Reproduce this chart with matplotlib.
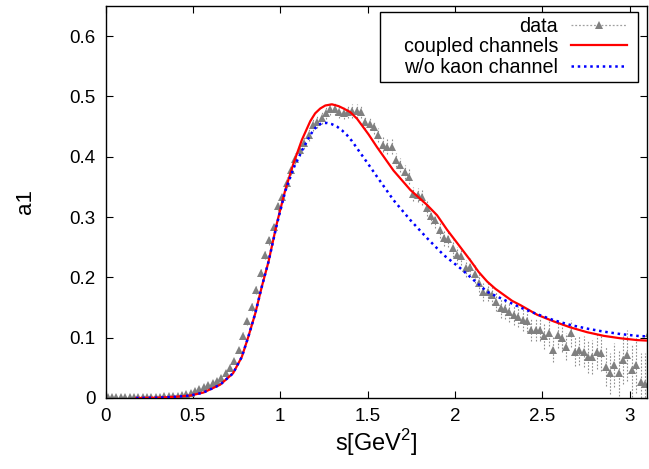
import matplotlib
matplotlib.use("Agg")
import matplotlib.pyplot as plt
from matplotlib.lines import Line2D
from matplotlib.patches import Rectangle
from matplotlib.transforms import IdentityTransform

plt.rcParams['font.family'] = ['Liberation Sans', 'DejaVu Sans']
plt.rcParams['mathtext.fontset'] = 'custom'
plt.rcParams['mathtext.rm'] = 'Liberation Sans'

# data points (s, a1, error)
s_data = [0.0125, 0.0375, 0.0625, 0.0875, 0.1125, 0.1375, 0.1625, 0.1875, 0.2125, 0.2375,
          0.2625, 0.2875, 0.3125, 0.3375, 0.3625, 0.3875, 0.4125, 0.4375, 0.4625, 0.4875,
          0.5125, 0.5375, 0.5625, 0.5875, 0.6125, 0.6375, 0.6625, 0.6875, 0.7125, 0.7375,
          0.7625, 0.7875, 0.8125, 0.8375, 0.8625, 0.8875, 0.9125, 0.9375, 0.9625, 0.9875,
          1.0125, 1.0375, 1.0625, 1.0875, 1.1125, 1.1375, 1.1625, 1.1875, 1.2125, 1.2375,
          1.2625, 1.2875, 1.3125, 1.3375, 1.3625, 1.3875, 1.4125, 1.4375, 1.4625, 1.4875,
          1.5125, 1.5375, 1.5625, 1.5875, 1.6125, 1.6375, 1.6625, 1.6875, 1.7125, 1.7375,
          1.7625, 1.7875, 1.8125, 1.8375, 1.8625, 1.8875, 1.9125, 1.9375, 1.9625, 1.9875,
          2.0125, 2.0375, 2.0625, 2.0875, 2.1125, 2.1375, 2.1625, 2.1875, 2.2125, 2.2375,
          2.2625, 2.2875, 2.3125, 2.3375, 2.3625, 2.3875, 2.4125, 2.4375, 2.4625, 2.4875,
          2.5125, 2.5375, 2.5625, 2.5875, 2.6125, 2.6375, 2.6625, 2.6875, 2.7125, 2.7375,
          2.7625, 2.7875, 2.8125, 2.8375, 2.8625, 2.8875, 2.9125, 2.9375, 2.9625, 2.9875,
          3.0125, 3.0375, 3.0625, 3.0875, 3.1125]
a1_data = [0.002, 0.002, 0.002, 0.002, 0.002, 0.002, 0.002, 0.002, 0.002, 0.002,
           0.002, 0.002, 0.002, 0.003, 0.003, 0.003, 0.004, 0.005, 0.007, 0.009,
           0.012, 0.015, 0.019, 0.022, 0.025, 0.028, 0.033, 0.041, 0.050, 0.062,
           0.080, 0.103, 0.127, 0.151, 0.179, 0.207, 0.237, 0.262, 0.284, 0.318,
           0.333, 0.357, 0.378, 0.397, 0.411, 0.423, 0.436, 0.453, 0.458, 0.464,
           0.472, 0.479, 0.479, 0.475, 0.473, 0.475, 0.476, 0.476, 0.475, 0.457,
           0.455, 0.449, 0.436, 0.420, 0.417, 0.417, 0.395, 0.386, 0.375, 0.367,
           0.338, 0.337, 0.333, 0.315, 0.301, 0.295, 0.279, 0.265, 0.263, 0.248,
           0.237, 0.235, 0.215, 0.218, 0.205, 0.190, 0.176, 0.176, 0.171, 0.160,
           0.149, 0.147, 0.143, 0.138, 0.135, 0.129, 0.127, 0.113, 0.113, 0.113,
           0.102, 0.107, 0.080, 0.104, 0.099, 0.085, 0.107, 0.077, 0.080, 0.077,
           0.068, 0.068, 0.077, 0.074, 0.052, 0.041, 0.055, 0.042, 0.063, 0.071,
           0.046, 0.055, 0.027, 0.024, 0.107]
err_data = [0.001, 0.001, 0.001, 0.001, 0.001, 0.001, 0.001, 0.001, 0.001, 0.001,
            0.001, 0.001, 0.001, 0.001, 0.001, 0.001, 0.002, 0.002, 0.002, 0.002,
            0.002, 0.003, 0.003, 0.003, 0.003, 0.004, 0.004, 0.004, 0.005, 0.005,
            0.005, 0.006, 0.006, 0.006, 0.007, 0.007, 0.007, 0.008, 0.008, 0.008,
            0.008, 0.009, 0.009, 0.009, 0.009, 0.010, 0.010, 0.010, 0.010, 0.010,
            0.010, 0.010, 0.010, 0.010, 0.010, 0.011, 0.011, 0.011, 0.011, 0.011,
            0.011, 0.011, 0.011, 0.012, 0.012, 0.012, 0.012, 0.012, 0.012, 0.012,
            0.012, 0.012, 0.013, 0.013, 0.013, 0.013, 0.013, 0.013, 0.013, 0.014,
            0.014, 0.014, 0.014, 0.014, 0.015, 0.015, 0.015, 0.015, 0.016, 0.016,
            0.016, 0.016, 0.017, 0.017, 0.017, 0.018, 0.018, 0.018, 0.019, 0.019,
            0.020, 0.020, 0.021, 0.021, 0.022, 0.022, 0.023, 0.024, 0.025, 0.026,
            0.027, 0.028, 0.029, 0.030, 0.032, 0.034, 0.036, 0.038, 0.040, 0.042,
            0.044, 0.046, 0.048, 0.050, 0.050]

# coupled channels curve
s_cc = [0.175, 0.30, 0.40, 0.484, 0.56, 0.656, 0.73, 0.78, 0.818, 0.857, 0.895, 0.933,
        0.981, 1.029, 1.076, 1.124, 1.172, 1.20, 1.229, 1.258, 1.296, 1.334, 1.363,
        1.401, 1.44, 1.506, 1.554, 1.649, 1.745, 1.841, 1.898, 1.955, 2.013, 2.089,
        2.136, 2.185, 2.232, 2.28, 2.328, 2.375, 2.471, 2.566, 2.662, 2.758, 2.853,
        2.948, 3.044, 3.11]
a1_cc = [0.0, 0.0005, 0.002, 0.004, 0.009, 0.022, 0.041, 0.068, 0.102, 0.140, 0.185, 0.226,
         0.290, 0.345, 0.389, 0.428, 0.459, 0.472, 0.480, 0.485, 0.487, 0.484, 0.480,
         0.474, 0.463, 0.437, 0.416, 0.377, 0.345, 0.320, 0.303, 0.279, 0.257, 0.228,
         0.209, 0.193, 0.181, 0.171, 0.161, 0.154, 0.138, 0.127, 0.117, 0.109, 0.103,
         0.099, 0.096, 0.095]

# without kaon channel curve
s_nk = [0.175, 0.30, 0.40, 0.484, 0.56, 0.656, 0.73, 0.78, 0.818, 0.857, 0.895, 0.933,
        0.981, 1.029, 1.076, 1.124, 1.172, 1.195, 1.22, 1.243, 1.268, 1.296, 1.325,
        1.353, 1.382, 1.411, 1.44, 1.506, 1.554, 1.649, 1.745, 1.841, 1.936, 2.032,
        2.098, 2.185, 2.28, 2.375, 2.471, 2.566, 2.662, 2.758, 2.853, 2.948, 3.044, 3.11]
a1_nk = [0.0, 0.0005, 0.002, 0.004, 0.009, 0.022, 0.041, 0.068, 0.102, 0.140, 0.185, 0.226,
         0.288, 0.343, 0.381, 0.410, 0.436, 0.446, 0.453, 0.456, 0.456, 0.454, 0.450,
         0.444, 0.436, 0.426, 0.414, 0.387, 0.367, 0.328, 0.295, 0.265, 0.237, 0.215,
         0.198, 0.176, 0.163, 0.150, 0.139, 0.129, 0.121, 0.115, 0.110, 0.106, 0.103, 0.102]

legend_labels = ['data', 'coupled channels', 'w/o kaon channel']
x_ticks = [0, 0.5, 1, 1.5, 2, 2.5, 3]
x_tick_labels = ['0', '0.5', '1', '1.5', '2', '2.5', '3']
y_ticks = [0, 0.1, 0.2, 0.3, 0.4, 0.5, 0.6]
y_tick_labels = ['0', '0.1', '0.2', '0.3', '0.4', '0.5', '0.6']

fig = plt.figure(figsize=(6.49, 4.69), dpi=100)
ax = fig.add_axes([0.1626, 0.1514, 0.8344, 0.8358])

gray = '#808080'
eb = ax.errorbar(s_data, a1_data, yerr=err_data, fmt='^', color=gray,
                 ecolor='#909090', elinewidth=0.8, capsize=1.5, capthick=0.8,
                 markersize=5.5, markeredgewidth=0, zorder=2)
for bar in eb[2]:
    bar.set_linestyle((0, (1.5, 1.5)))

l_cc, = ax.plot(s_cc, a1_cc, color='#ff0000', lw=1.6, zorder=3)
l_nk, = ax.plot(s_nk, a1_nk, color='#0000ff', lw=1.8, linestyle=(0, (1, 1.5)), zorder=4)

ax.set_xlim(0, 3.1)
ax.set_ylim(0, 0.65)
ax.set_xticks(x_ticks)
ax.set_xticklabels(x_tick_labels)
ax.set_yticks(y_ticks)
ax.set_yticklabels(y_tick_labels)
ax.tick_params(direction='in', length=5, width=0.8, labelsize=13.5,
               top=True, right=True, pad=7)
for sp in ax.spines.values():
    sp.set_linewidth(1.0)

ax.set_xlabel('s[GeV$^2$]', fontsize=17, labelpad=2)
ax.set_ylabel('a1', fontsize=16, labelpad=24)

data_handle = Line2D([], [], color='#a0a0a0', lw=0.9, linestyle=(0, (1.5, 1.5)),
                     marker='^', markersize=5.5, markerfacecolor=gray,
                     markeredgewidth=0)
leg = ax.legend([data_handle, l_cc, l_nk], legend_labels,
                loc='upper right', bbox_to_anchor=(0.972, 0.985), markerfirst=False,
                numpoints=1, fontsize=14.2, frameon=False,
                borderaxespad=0, handlelength=2.85, handletextpad=0.65,
                labelspacing=0.08, borderpad=0.25)
for t in leg.get_texts():
    t.set_ha('right')
leg._legend_box.align = 'right'
leg.set_zorder(6)

# gnuplot-style key box: wider padding on the left than on the right
fig.canvas.draw()
bb = leg.get_window_extent()
box = Rectangle((bb.x0 - 19, bb.y0), bb.width + 25, bb.height,
                transform=IdentityTransform(), clip_on=False,
                facecolor='white', edgecolor='black', lw=1.0, zorder=5)
ax.add_patch(box)

fig.savefig('out.png', dpi=100)
